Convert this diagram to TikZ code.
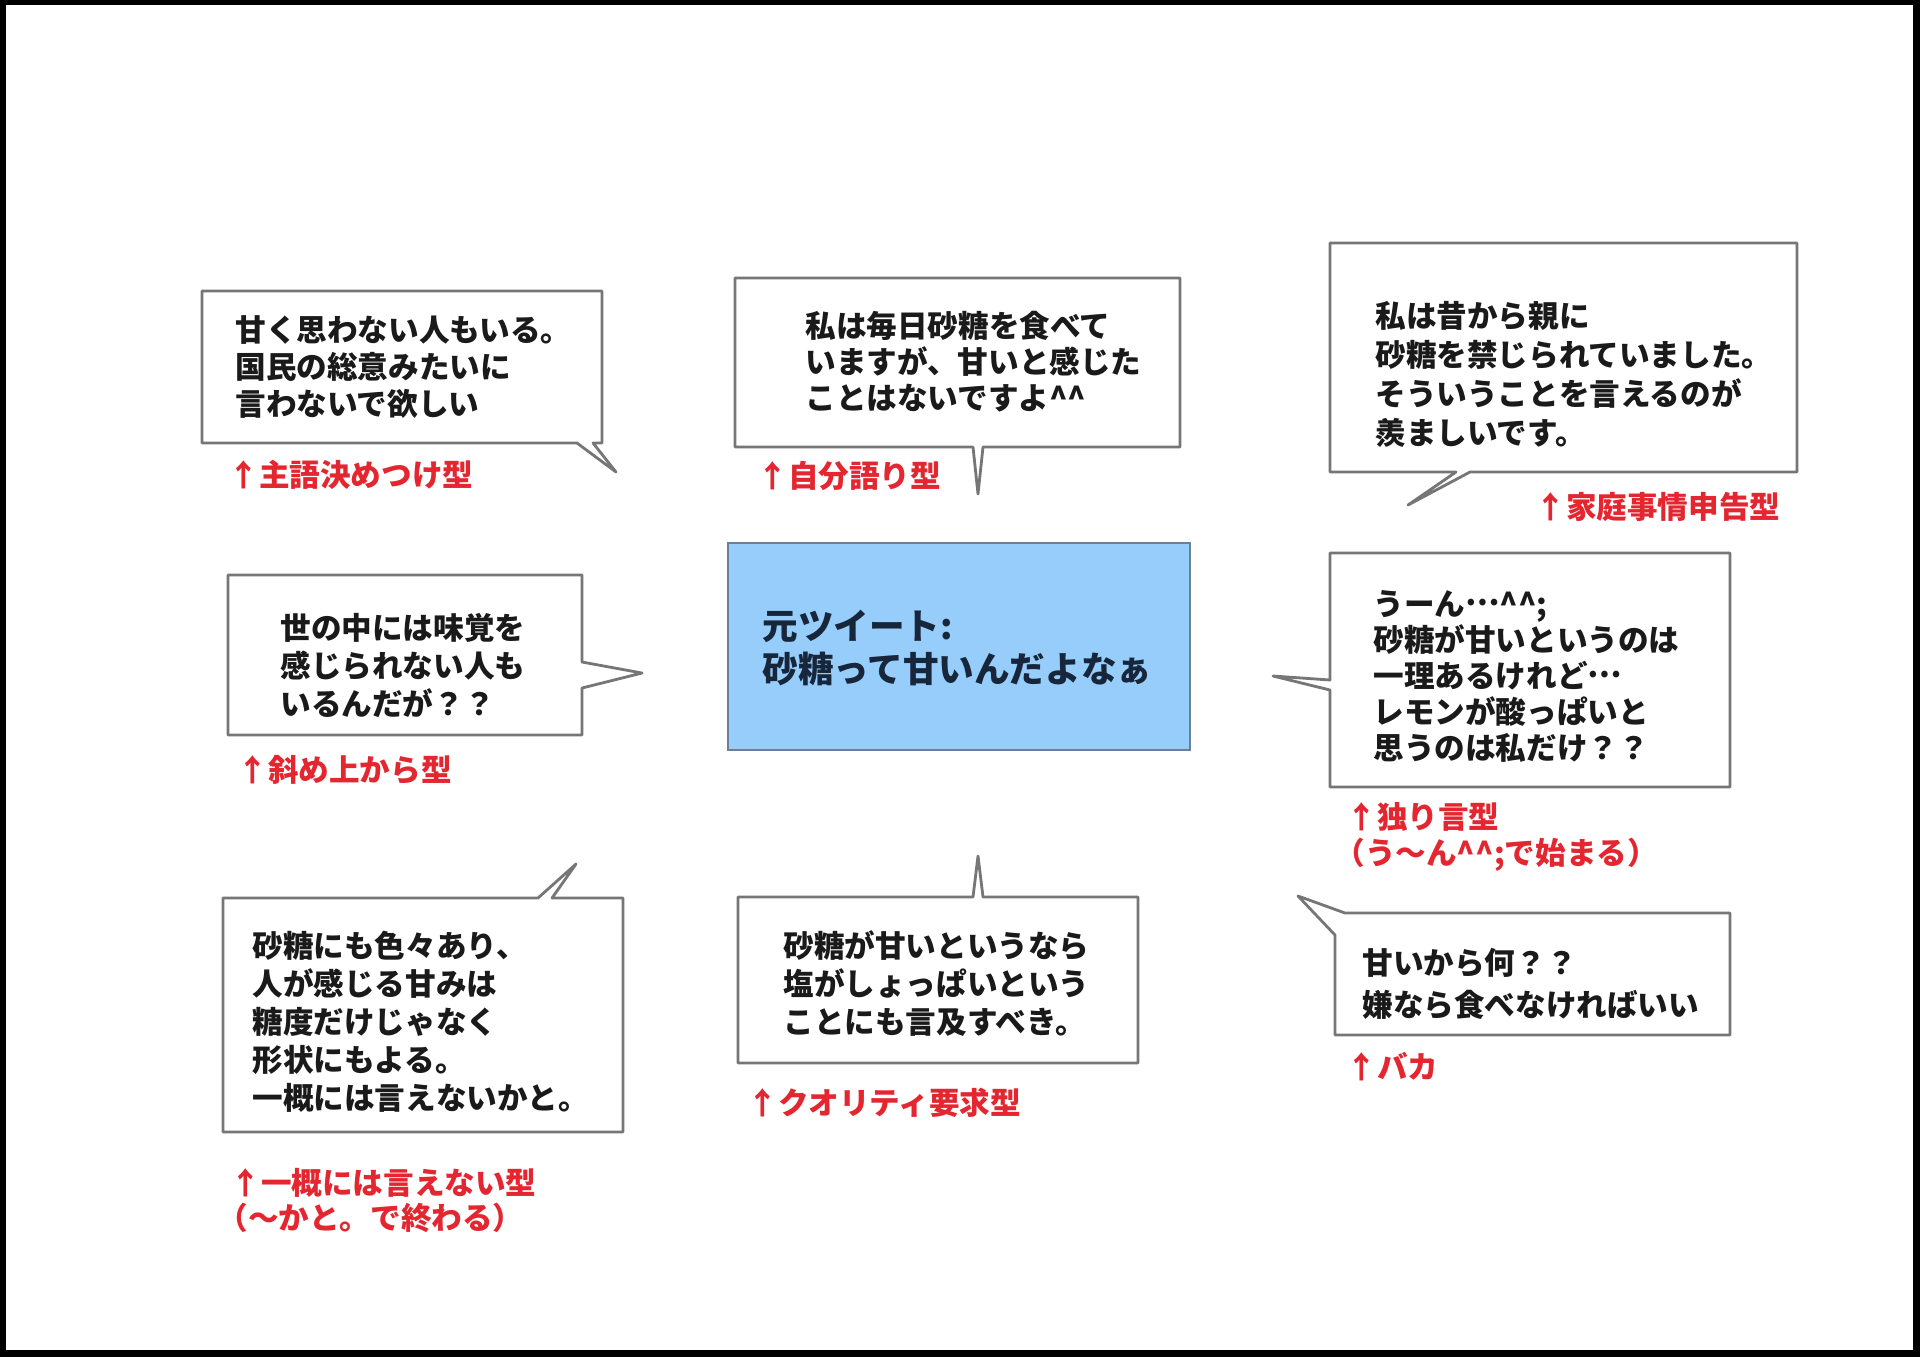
\documentclass[tikz,border=0pt]{standalone}
\usepackage{fontspec}
\newfontfamily\jp{Noto Sans CJK JP}
\definecolor{boxgray}{HTML}{767676}
\definecolor{lblred}{HTML}{E3262F}
\definecolor{tweetfill}{RGB}{150,205,250}
\definecolor{tweetline}{HTML}{6B8096}
\definecolor{ink}{HTML}{1A1A1A}
\definecolor{tweetink}{HTML}{17263A}
\newcommand\jellip{\raisebox{0.32em}{…}}
\begin{document}
\begin{tikzpicture}[x=0.5pt,y=-0.5pt,
  bubble/.style={draw=boxgray,line width=1.4pt,fill=white,line join=round},
  btext/.style={font=\jp\bfseries\fontsize{15.3pt}{19pt}\selectfont,align=left,inner sep=0pt,anchor=west,text=ink},
  rlabel/.style={font=\jp\bfseries\fontsize{15.3pt}{18pt}\selectfont,text=lblred,anchor=west,inner sep=0pt}]
\useasboundingbox (0,0) rectangle (1920,1357);
\fill[black] (0,0) rectangle (1920,1357);
\fill[white] (6,5) rectangle (1913,1350);

% central tweet
\draw[fill=tweetfill,draw=tweetline,line width=1.4pt] (728,543) rectangle (1190,750);
\node[btext,text=tweetink,font=\jp\bfseries\fontsize{17.8pt}{21.5pt}\selectfont] (tw) at (762,648) {元ツイート:\\砂糖って甘いんだよなぁ};

% top-left
\draw[bubble] (202,291) -- (602,291) -- (602,443) -- (593,443) -- (616,472) -- (577,443) -- (202,443) -- cycle;
\node[btext,font=\jp\bfseries\fontsize{15.3pt}{18.3pt}\selectfont] (t1) at (235,367) {甘く思わない人もいる。\\国民の総意みたいに\\言わないで欲しい};
\node[rlabel] (l1) at (228,475) {↑主語決めつけ型};

% top-center
\draw[bubble] (735,278) -- (1180,278) -- (1180,447) -- (983,447) -- (978,494) -- (973,447) -- (735,447) -- cycle;
\node[btext,font=\jp\bfseries\fontsize{15.3pt}{18pt}\selectfont] (t2) at (805,362) {私は毎日砂糖を食べて\\いますが、甘いと感じた\\ことはないですよ\textasciicircum\textasciicircum};
\node[rlabel] (l2) at (757,476) {↑自分語り型};

% top-right
\draw[bubble] (1330,243) -- (1797,243) -- (1797,472) -- (1470,472) -- (1408,505) -- (1456,472) -- (1330,472) -- cycle;
\node[btext,font=\jp\bfseries\fontsize{15.3pt}{19.5pt}\selectfont] (t3) at (1375,374) {私は昔から親に\\砂糖を禁じられていました。\\そういうことを言えるのが\\羨ましいです。};
\node[rlabel] (l3) at (1535,507) {↑家庭事情申告型};

% middle-left
\draw[bubble] (228,575) -- (582,575) -- (582,662) -- (642,673) -- (582,688) -- (582,735) -- (228,735) -- cycle;
\node[btext] (t4) at (280,665) {世の中には味覚を\\感じられない人も\\いるんだが？？};
\node[rlabel] (l4) at (237,770) {↑斜め上から型};

% middle-right
\draw[bubble] (1330,553) -- (1730,553) -- (1730,787) -- (1330,787) -- (1330,690) -- (1273,676) -- (1330,680) -- cycle;
\node[btext,font=\jp\bfseries\fontsize{15.3pt}{18pt}\selectfont] (t6) at (1373,676) {うーん\jellip\textasciicircum\textasciicircum;\\砂糖が甘いというのは\\一理あるけれど\jellip\\レモンが酸っぱいと\\思うのは私だけ？？};
\node[rlabel] (l6a) at (1346,817) {↑独り言型};
\node[rlabel] (l6b) at (1334,855) {（う〜ん\textasciicircum\textasciicircum;で始まる）};

% bottom-left
\draw[bubble] (223,898) -- (538,898) -- (576,864) -- (552,898) -- (623,898) -- (623,1132) -- (223,1132) -- cycle;
\node[btext] (t7) at (252,1022) {砂糖にも色々あり、\\人が感じる甘みは\\糖度だけじゃなく\\形状にもよる。\\一概には言えないかと。};
\node[rlabel] (l7a) at (230,1183) {↑一概には言えない型};
\node[rlabel] (l7b) at (217,1218) {（〜かと。で終わる）};

% bottom-center
\draw[bubble] (738,897) -- (973,897) -- (978,856) -- (983,897) -- (1138,897) -- (1138,1063) -- (738,1063) -- cycle;
\node[btext] (t8) at (783,984) {砂糖が甘いというなら\\塩がしょっぱいという\\ことにも言及すべき。};
\node[rlabel] (l8) at (747,1103) {↑クオリティ要求型};

% bottom-right
\draw[bubble] (1335,935) -- (1298,896) -- (1345,913) -- (1730,913) -- (1730,1035) -- (1335,1035) -- cycle;
\node[btext,font=\jp\bfseries\fontsize{15.3pt}{21pt}\selectfont] (t9) at (1362,984) {甘いから何？？\\嫌なら食べなければいい};
\node[rlabel] (l9) at (1346,1067) {↑バカ};
\end{tikzpicture}
\end{document}
